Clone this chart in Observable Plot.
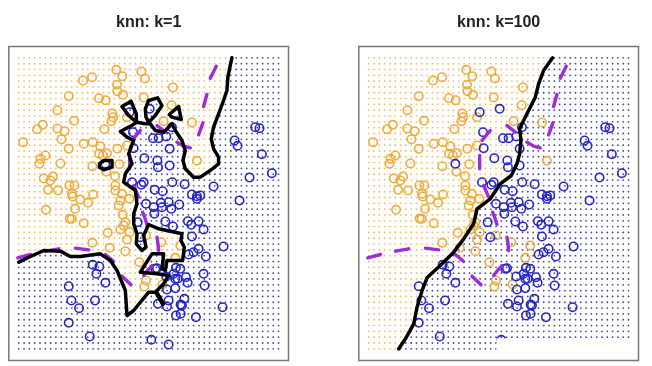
<!DOCTYPE html>
<html><head><meta charset="utf-8">
<script src="https://cdn.jsdelivr.net/npm/d3@7"></script>
<script src="https://cdn.jsdelivr.net/npm/@observablehq/plot@0.6"></script>
<style>
html,body{margin:0;padding:0;background:#fff}
#wrap{position:relative;width:652px;height:366px;overflow:hidden}
#wrap>div,#wrap>svg{position:absolute;top:0}
svg{filter:blur(0.4px)}
</style></head><body><div id="wrap"></div>
<script>
const orangePoints=[[348,208],[423,213],[366,227],[434,234],[248,240],[275,230],[350,253],[518,261],[351,272],[368,283],[205,287],[296,293],[316,299],[430,291],[514,314],[171,329],[336,339],[338,350],[333,362],[221,361],[380,350],[490,362],[575,366],[127,373],[110,386],[171,384],[193,392],[312,386],[183,416],[68,425],[250,430],[277,425],[300,437],[380,435],[351,445],[205,445],[296,460],[320,458],[308,465],[135,465],[120,475],[117,490],[180,489],[276,497],[357,491],[590,481],[318,514],[344,527],[158,528],[130,534],[150,540],[207,555],[222,555],[345,555],[143,568],[173,570],[345,570],[215,580],[278,582],[365,580],[387,595],[217,588],[240,597],[263,607],[360,600],[355,615],[137,628],[224,625],[367,643],[214,655],[208,655],[250,668],[375,665],[370,675],[360,687],[388,695],[322,697],[380,717],[276,727],[328,742],[375,752],[417,785],[483,725],[437,705],[540,735],[525,772],[437,840],[432,858],[487,852]];
const bluePoints=[[388,335],[448,325],[398,395],[515,380],[458,413],[475,413],[498,408],[400,443],[508,445],[432,473],[471,480],[473,500],[508,495],[315,490],[703,420],[712,436],[765,380],[778,383],[785,461],[815,518],[748,531],[395,545],[430,545],[423,553],[516,545],[553,551],[640,558],[463,568],[487,572],[575,582],[590,587],[600,585],[590,595],[718,600],[437,610],[460,620],[482,607],[505,605],[537,612],[485,620],[513,625],[462,640],[495,663],[518,678],[412,665],[563,662],[595,662],[573,673],[610,687],[575,708],[420,710],[670,738],[595,745],[580,755],[565,762],[617,768],[277,793],[297,798],[288,820],[315,847],[205,857],[213,900],[236,923],[284,900],[205,967],[268,1008],[453,1018],[505,1032],[610,820],[613,855],[667,920],[587,950],[527,945],[541,940],[545,915],[541,912],[552,895],[473,910],[500,918],[505,900],[525,863],[500,867],[562,847],[557,830],[532,835],[527,802],[540,805],[520,820],[525,835],[498,828],[470,803],[465,805]];
const knn1Boundary=[[695,172],[690,195],[683,230],[680,270],[670,300],[655,340],[640,380],[633,415],[640,445],[655,470],[655,490],[630,510],[600,530],[580,530],[555,505],[548,480],[555,450],[545,420],[525,390],[515,370],[490,395],[465,390],[450,370],[435,370],[410,365],[385,380],[360,393],[380,410],[400,420],[385,460],[395,490],[375,520],[370,545],[405,570],[410,610],[400,640],[400,670],[410,700],[408,730],[425,750],[437,740],[430,705],[445,672],[475,685],[545,700],[542,720],[552,740],[547,780],[500,780],[495,810],[485,805],[488,780],[490,760],[455,760],[420,815],[470,820],[505,825],[490,850],[465,875],[445,875],[400,930],[380,945],[375,870],[350,810],[330,780],[300,760],[240,768],[210,768],[180,752],[130,750],[90,768],[55,785]];
const knn1Spur=[[468,876],[478,892],[488,910]];
const knn1Islands=[
 [[365,318],[392,302],[408,340],[408,365],[385,345],[365,318]],
 [[435,325],[445,300],[472,292],[485,315],[465,345],[445,365],[437,350],[435,325]],
 [[507,342],[535,318],[543,357],[515,350],[507,342]],
 [[297,490],[310,480],[335,480],[335,500],[310,508],[297,500],[297,490]]
];
const knn100Boundary=[[607,172],[580,210],[565,250],[555,290],[535,330],[520,360],[508,385],[512,420],[508,460],[500,490],[483,525],[450,550],[420,595],[380,625],[370,670],[340,715],[310,755],[275,790],[230,832],[215,870],[200,920],[190,970],[165,1015],[145,1045]];
const bayesDashes=[[[52,772],[90,762]],[[135,752],[175,745]],[[225,743],[265,748]],[[315,762],[340,783]],[[365,827],[392,853]],[[430,825],[440,812],[455,795]],[[470,710],[473,730],[475,750]],[[427,635],[433,650],[440,672]],[[400,555],[415,590]],[[388,465],[388,505]],[[395,420],[420,390]],[[470,375],[495,395]],[[530,425],[550,437],[570,442]],[[595,403],[608,367]],[[610,318],[620,282]],[[630,233],[648,197]]];
const gridColumns=d3.range(50).map(i=>55+i*780/49);
const gridRows=d3.range(51).map(i=>172+i*873/50);
const cornerKnn1=[[20,785],[20,100],[695,100]];
const cornerKnn100=[[145,1060],[20,1060],[20,100],[607,100]];
const smudgeRects=[[440,862,1015,1068]];
const titles=["knn: k=1","knn: k=100"];

const gridAll=gridColumns.flatMap(x=>gridRows.map(y=>[x,y]));

function panel(title,boundary,corner,islands,extraLines,smudges,left){
  const region=boundary.concat(corner);
  const isOrange=p=>{
    let o=d3.polygonContains(region,p);
    for(const s of islands) if(d3.polygonContains(s,p)) o=!o;
    return o;
  };
  const lineRows=bayesDashes.flatMap((d,i)=>d.map(p=>({x:p[0],y:p[1],z:i})));
  const chart=Plot.plot({
    width:300,height:366,marginLeft:8.3,marginRight:12,marginTop:46,marginBottom:6,
    x:{domain:[25,865],axis:null},
    y:{domain:[1080,138],axis:null},
    style:{background:"transparent",overflow:"visible"},
    marks:[
      Plot.dot(gridAll.filter(isOrange),{r:0.9,fill:"#f3bb62",stroke:"none"}),
      Plot.dot(gridAll.filter(p=>!isOrange(p)),{r:0.9,fill:"#4548a4",stroke:"none"}),
      Plot.dot(orangePoints,{r:4.2,stroke:"#efab3a",strokeWidth:1.6,fill:"none"}),
      Plot.dot(bluePoints,{r:4.2,stroke:"#2626c0",strokeWidth:1.6,fill:"none"}),
      Plot.line(lineRows,{x:"x",y:"y",z:"z",stroke:"#a02bd8",strokeWidth:3.4,strokeLinecap:"round"}),
      Plot.line(boundary,{stroke:"#000",strokeWidth:3.5,strokeLinejoin:"round",strokeLinecap:"round"}),
      ...islands.map(l=>Plot.line(l,{stroke:"#000",strokeWidth:3.5,strokeLinejoin:"round"})),
      ...extraLines.map(l=>Plot.line(l,{stroke:"#000",strokeWidth:4.5,strokeLinecap:"round"})),
      Plot.frame({stroke:"#777",strokeWidth:1.5}),
      Plot.rect(smudges,{x1:d=>d[0],x2:d=>d[1],y1:d=>d[2],y2:d=>d[3],fill:"#fff"}),
      Plot.text([title],{x:()=>445,y:()=>63,text:d=>d,fontSize:16,fontWeight:"bold",fontFamily:"Liberation Sans",fill:"#222"})
    ]
  });
  chart.style.left=left+"px";
  document.getElementById("wrap").appendChild(chart);
}
panel(titles[0],knn1Boundary,cornerKnn1,knn1Islands,[knn1Spur],[],0);
panel(titles[1],knn100Boundary,cornerKnn100,[],[],smudgeRects,349.5);
</script></body></html>
